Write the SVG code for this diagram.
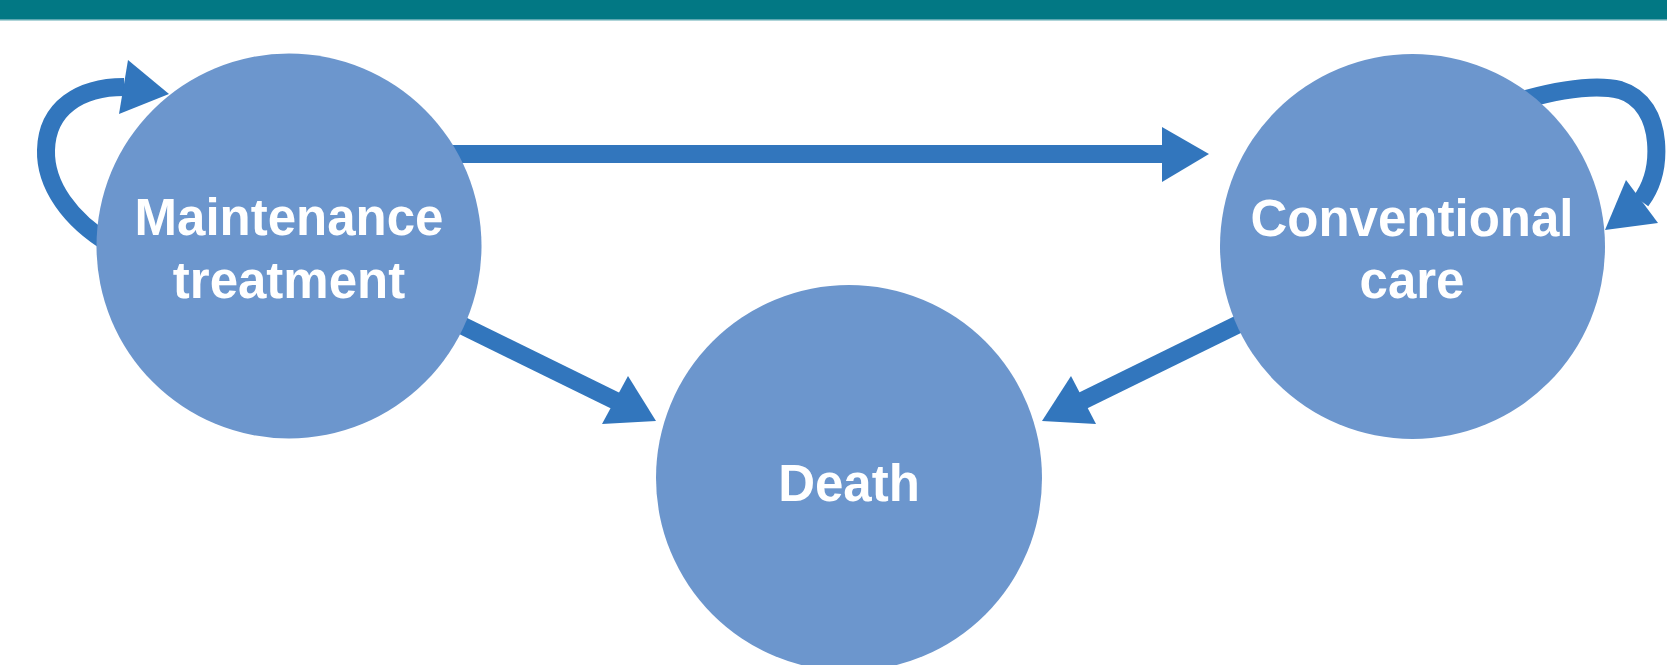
<svg xmlns="http://www.w3.org/2000/svg" width="1667" height="665" viewBox="0 0 1667 665">
<defs>
<style>
.node{fill:#6C96CD;}
.lbl{font-family:"Liberation Sans",Arial,sans-serif;font-weight:bold;font-size:51px;fill:#FFFFFF;text-anchor:middle;}
.edge{fill:none;stroke:#3276BD;stroke-width:18;}
.head{fill:#3276BD;stroke:none;}
</style>
</defs>
<rect x="0" y="0" width="1667" height="665" fill="#FFFFFF"/>
<rect x="0" y="0" width="1667" height="19" fill="#027884"/>
<rect x="0" y="19" width="1667" height="1.5" fill="#5FA9B2"/>
<g id="connectors">
<path class="edge" d="M 110 244 C 70 220, 45 185, 46 150 C 47 108, 80 87, 124 87"/>
<polygon class="head" points="128,60 169,94 119,114"/>
<path class="edge" d="M 420 154 L 1165 154"/>
<polygon class="head" points="1162,127 1209,154 1162,182"/>
<path class="edge" d="M 400 295 L 616 401"/>
<polygon class="head" points="628,376 656,421 602,424"/>
<path class="edge" d="M 1298 295 L 1082 401"/>
<polygon class="head" points="1071,376 1042,421 1096,424"/>
<path class="edge" d="M 1515 102 C 1560 89, 1597 84, 1620 90 C 1643 97, 1654 118, 1656 142 C 1658 166, 1652 186, 1641 201"/>
<polygon class="head" points="1626,180 1658,223 1605,230"/>
</g>
<g id="maintenance">
<circle class="node" cx="289" cy="246" r="192.5"/>
<text class="lbl" x="289" y="235">Maintenance</text>
<text class="lbl" x="289" y="298">treatment</text>
</g>
<g id="conventional">
<circle class="node" cx="1412.5" cy="246.5" r="192.5"/>
<text class="lbl" x="1412" y="236">Conventional</text>
<text class="lbl" x="1412" y="298">care</text>
</g>
<g id="death">
<circle class="node" cx="849" cy="478" r="193"/>
<text class="lbl" x="849" y="501">Death</text>
</g>
</svg>
